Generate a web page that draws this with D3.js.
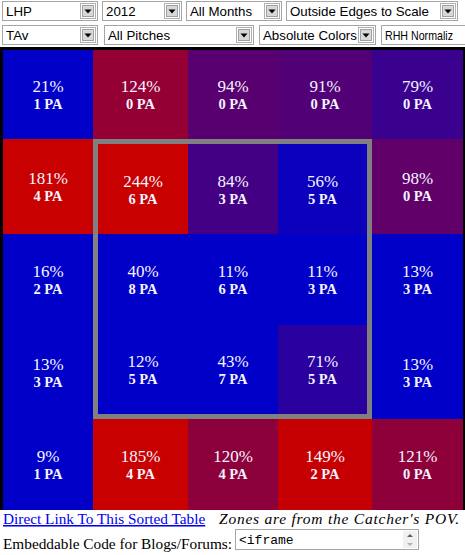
<!DOCTYPE html>
<html><head><meta charset="utf-8">
<script src="https://cdn.jsdelivr.net/npm/d3@7"></script>
<style>html,body{margin:0;padding:0;background:#fff;overflow:hidden}</style>
</head><body>
<div id="chart"></div>
<script>
// ---- data ----
const columns = [0, 1, 2, 3, 4];
const rows = [0, 1, 2, 3, 4];
const pctRow1 = [21, 124, 94, 91, 79];
const pctRow2 = [181, 244, 84, 56, 98];
const pctRow3 = [16, 40, 11, 11, 13];
const pctRow4 = [13, 12, 43, 71, 13];
const pctRow5 = [9, 185, 120, 149, 121];
const paRow1 = [1, 0, 0, 0, 0];
const paRow2 = [4, 6, 3, 5, 0];
const paRow3 = [2, 8, 6, 3, 3];
const paRow4 = [3, 5, 7, 5, 3];
const paRow5 = [1, 4, 4, 2, 0];
const selectsRow1 = ["LHP", "2012", "All Months", "Outside Edges to Scale"];
const selectsRow2 = ["TAv", "All Pitches", "Absolute Colors", "RHH Normaliz"];
const linkLabel = "Direct Link To This Sorted Table";
const noteLabel = "Zones are from the Catcher's POV.";
const embedLabel = "Embeddable Code for Blogs/Forums:";
const embedCode = "<iframe";

const pctRows = [pctRow1, pctRow2, pctRow3, pctRow4, pctRow5];
const paRows = [paRow1, paRow2, paRow3, paRow4, paRow5];
const cells = [];
rows.forEach(r => columns.forEach(c => cells.push({r, c, pct: pctRows[r][c], pa: paRows[r][c]})));

const W = 465, H = 555;
const svg = d3.select("#chart").append("svg").attr("width", W).attr("height", H);

// scales: zone edges (outside edges to scale)
const x = d3.scaleLinear().domain([0, 1, 2, 3, 4, 5]).range([3, 93, 188, 278, 372, 463]);
const y = d3.scaleLinear().domain([0, 1, 2, 3, 4, 5]).range([50, 139, 234, 325, 419, 510]);
const color = d3.scaleLinear().domain([50, 150]).range(["#0000c8", "#c80000"]).clamp(true);
const bw = 5; // strike zone border

// background
svg.append("rect").attr("x", 0).attr("y", 47).attr("width", W).attr("height", 463).attr("fill", "#000");

svg.append("g").selectAll("rect").data(cells).join("rect")
  .attr("x", d => x(d.c)).attr("y", d => y(d.r))
  .attr("width", d => x(d.c + 1) - x(d.c)).attr("height", d => y(d.r + 1) - y(d.r))
  .attr("fill", d => color(d.pct));

// strike zone
svg.append("rect")
  .attr("x", x(1) + bw / 2).attr("y", y(1) + bw / 2)
  .attr("width", x(4) - x(1) - bw).attr("height", y(4) - y(1) - bw)
  .attr("fill", "none").attr("stroke", "#808080").attr("stroke-width", bw);

function cx(d) {
  let a = x(d.c), b = x(d.c + 1);
  if (d.c === 1 && d.r >= 1 && d.r <= 3) a += bw;
  if (d.c === 3 && d.r >= 1 && d.r <= 3) b -= bw;
  return (a + b) / 2;
}
function cy(d) {
  let a = y(d.r), b = y(d.r + 1);
  if (d.r === 1 && d.c >= 1 && d.c <= 3) a += bw;
  if (d.r === 3 && d.c >= 1 && d.c <= 3) b -= bw;
  return (a + b) / 2;
}
const labels = svg.append("g").attr("font-family", "'Liberation Serif','Times New Roman',serif").attr("fill", "#f4f4ff").attr("text-anchor", "middle");
labels.selectAll("text.p").data(cells).join("text").attr("class", "p")
  .attr("x", cx).attr("y", d => cy(d) - 2.5).attr("font-size", 17).text(d => d.pct + "%");
labels.selectAll("text.n").data(cells).join("text").attr("class", "n")
  .attr("x", cx).attr("y", d => cy(d) + 14.5).attr("font-size", 14.5).attr("font-weight", "bold").text(d => d.pa + " PA");

// select controls
const selGeom1 = [[2, 96], [102, 80], [186, 96], [286, 172]];
const selGeom2 = [[2, 96], [104, 150], [259, 117], [381, 84]];
function drawSelects(labelsArr, geom, top, lastOpen) {
  const g = svg.append("g");
  labelsArr.forEach((t, i) => {
    const [sx, sw] = geom[i];
    const s = g.append("g");
    const open = lastOpen && i === labelsArr.length - 1;
    s.append("rect").attr("x", sx + 0.5).attr("y", top + 0.5).attr("width", sw - 1).attr("height", 19)
      .attr("fill", "#fff").attr("stroke", open ? "none" : "#a5a5a5");
    if (open) {
      s.append("path").attr("d", `M${sx + sw},${top + 0.5}H${sx + 0.5}V${top + 19.5}H${sx + sw}`)
        .attr("fill", "none").attr("stroke", "#a5a5a5");
    }
    const txt = s.append("text").attr("x", sx + 4).attr("y", top + 15).attr("font-family", "'Liberation Sans',Arial,sans-serif")
      .attr("font-size", open ? 12.6 : 13.3).attr("fill", "#000").text(t);
    const maxLen = W - 12 - (sx + 4);
    const len = txt.node().getComputedTextLength();
    if (len > maxLen) txt.attr("textLength", maxLen).attr("lengthAdjust", "spacingAndGlyphs");
    if (!open) {
      const bx = sx + sw - 17;
      s.append("rect").attr("x", bx - 0.5).attr("y", top + 2.5).attr("width", 15).attr("height", 15)
        .attr("fill", "#fff").attr("stroke", "#b0b0b0");
      s.append("rect").attr("x", bx + 1.5).attr("y", top + 4.5).attr("width", 11).attr("height", 11)
        .attr("fill", "#d8d8d8").attr("stroke", "#a0a0a0");
      s.append("path").attr("d", `M${bx + 3.5},${top + 8.5}h7l-3.5,4z`).attr("fill", "#000");
    }
  });
}
drawSelects(selectsRow1, selGeom1, 1, false);
drawSelects(selectsRow2, selGeom2, 25, true);

// footer
const serif = "'Liberation Serif','Times New Roman',serif";
svg.append("text").attr("x", 3).attr("y", 524).attr("font-family", serif).attr("font-size", 15.3)
  .attr("fill", "#0000ee").attr("text-decoration", "underline").text(linkLabel);
svg.append("text").attr("x", 219).attr("y", 524).attr("font-family", serif).attr("font-size", 15.5)
  .attr("font-style", "italic").attr("fill", "#000")
  .attr("textLength", 240).attr("lengthAdjust", "spacing").text(noteLabel);
svg.append("text").attr("x", 3).attr("y", 549).attr("font-family", serif).attr("font-size", 15.3)
  .attr("fill", "#000").text(embedLabel);
const ta = svg.append("g");
ta.append("rect").attr("x", 235.5).attr("y", 529.5).attr("width", 183).attr("height", 20)
  .attr("fill", "#fff").attr("stroke", "#a5a5a5");
ta.append("text").attr("x", 239).attr("y", 544).attr("font-family", "'Liberation Mono','DejaVu Sans Mono',monospace")
  .attr("font-size", 13).attr("fill", "#000").text(embedCode);
ta.append("rect").attr("x", 403).attr("y", 531).attr("width", 14).attr("height", 17).attr("fill", "#f0f0f0");
ta.append("path").attr("d", "M407,537h6l-3,-3z").attr("fill", "#606060");
ta.append("path").attr("d", "M407,543h6l-3,3z").attr("fill", "#b0b0b0");
</script>
</body></html>
